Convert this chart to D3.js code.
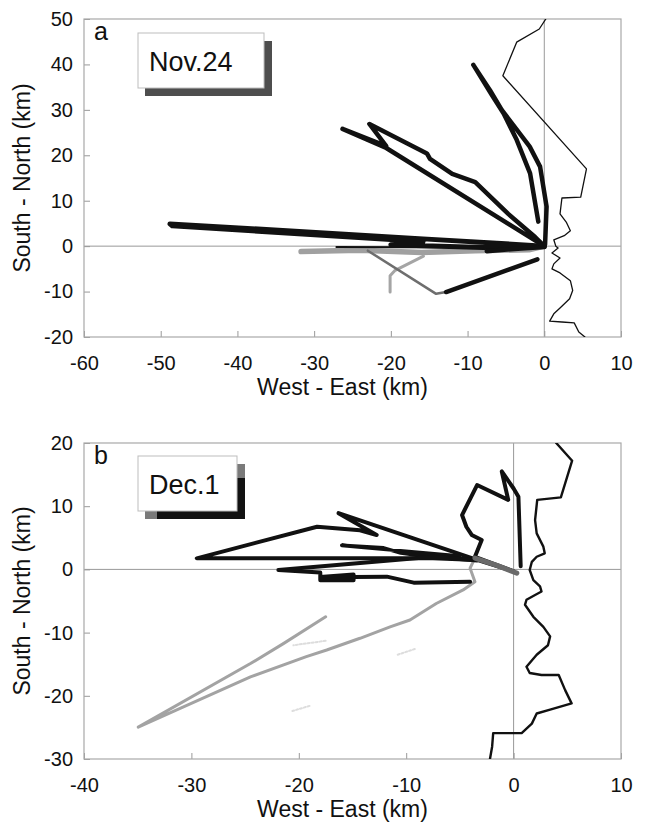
<!DOCTYPE html>
<meta charset="utf-8">
<script src="https://d3js.org/d3.v7.min.js"></script>
<style>
  body { margin: 0; background: #fff; }
  svg text { font-family: "Liberation Sans", Arial, sans-serif; fill: #111; }
</style>
<div id="chart"></div>
<script>
// ---- data (km) ----
var xTicksA = [-60, -50, -40, -30, -20, -10, 0, 10];
var yTicksA = [-20, -10, 0, 10, 20, 30, 40, 50];
var xTicksB = [-40, -30, -20, -10, 0, 10];
var yTicksB = [-30, -20, -10, 0, 10, 20];

// Nov.24
var profileA = [[0.2,50],[-0.65,47.8],[-3.6,44.9],[-5.4,37.5],[5.5,17.0],[4.75,10.8],[2.3,10.6],[2.05,7.1],[2.86,5.3],[3.4,3.4],[2.6,2.3],[1.24,1.4],[1.5,0],[1.8,-0.4],[1.0,-1.5],[2.05,-2.6],[1.24,-3.9],[1.0,-5.0],[2.05,-5.9],[3.4,-7.6],[3.7,-9.75],[3.3,-11.6],[2.05,-13.6],[1.24,-14.9],[0.7,-16.5],[2.3,-16.7],[3.9,-16.9],[4.5,-18.9],[5.3,-20]];
var northA = [[0.1,0.3],[0.3,8.7],[-0.55,17.5],[-1.9,21.9],[-5.55,30],[-7.1,34.4],[-9.25,39.9],[-6.85,33.3],[-5.3,29.2],[-3.6,23.4],[-1.85,16.0],[-0.78,5.4]];
var northWestA = [[0,0],[-20.6,21.6],[-26.3,25.8],[-20.6,22.0],[-22.8,26.9],[-19.5,24.0],[-15.3,20.4],[-14.9,19.2],[-12.0,15.9],[-9.0,14.1],[-4.7,7.1],[-1.2,2.0],[0,0]];
var westA = [[0,0],[-15.8,1.6],[-48.8,4.9],[-48.5,4.5],[-15.8,1.0],[-20,0.3],[-8,-0.3],[0,-0.1]];
var westTailA = [[-27.1,-0.2],[-8,-0.3]];
var nearA = [[-7.5,-1.1],[-3,-0.5],[0,-0.2]];
var southA = [[-12.8,-10.1],[-0.9,-2.9]];
var southGreyA = [[-23,-1.0],[-14.1,-10.5],[-12.8,-10.1]];
var bandGreyA = [[-31.7,-1.2],[-24,-0.9],[-16,-1.4],[-9,-1.0],[-2,-0.8],[0,0]];
var forkGreyA = [[-15.75,-2.2],[-19.5,-5.4],[-20.1,-6.5],[-20.1,-10.1]];

// Dec.1
var profileB = [[3.97,20],[5.45,17.2],[4.4,11.4],[2.2,11.0],[2.0,7.8],[2.15,5.7],[2.77,3.6],[2.9,2.55],[2.15,2.0],[1.7,1.2],[1.5,-0.1],[1.84,-1.7],[2.46,-2.7],[2.6,-3.5],[2.0,-4.05],[1.2,-4.8],[1.06,-5.6],[1.84,-7.5],[2.77,-9.1],[3.4,-10.6],[3.2,-12.0],[2.15,-13.5],[1.2,-15.4],[1.5,-16.4],[2.6,-16.7],[4.2,-16.7],[4.8,-19.1],[5.4,-21.2],[3.4,-22.2],[2.15,-22.8],[1.7,-24.4],[0.75,-25.9],[-1.9,-25.9],[-2.0,-28.05],[-2.2,-30]];
var leafB = [[0.66,0.5],[0.45,11.5],[0.0,12.8],[-1.1,15.5],[-0.5,11.0],[-3.4,13.35],[-4.8,8.6],[-4.4,6.75],[-3.9,5.45],[-2.97,4.65],[-3.6,2.0],[0,-0.3]];
var upperB = [[0,-0.3],[-3.4,1.5],[-16.3,8.9],[-12.75,5.45],[-14.3,6.2],[-18.3,6.75],[-29.5,1.75],[-7.5,1.75],[-3.4,1.5]];
var middleB = [[-3.6,1.6],[-8.0,2.0],[-10.5,2.6],[-12.1,3.4],[-16.0,3.8],[-12.1,3.2],[-9.5,2.8],[-5,2.1]];
var lowerB = [[-3.4,1.4],[-7.5,2.0],[-21.9,-0.1],[-18,-0.5],[-18,-1.7],[-14.9,-1.7],[-14.9,-0.8],[-18,-1.2],[-14.9,-1.2],[-11.8,-1.15],[-9.3,-2.1],[-4.05,-1.95]];
var greyB = [[0.3,-0.6],[-3.6,1.8],[-4.05,0.2],[-3.6,-1.95],[-4.7,-3.25],[-7.2,-5.4],[-9.65,-8.0],[-11.5,-9.1],[-14.3,-10.9],[-17.4,-12.75],[-19.3,-13.8],[-24.5,-17.0],[-34.95,-24.95],[-24.5,-14.9],[-21.4,-11.7],[-17.5,-7.5]];
var nearGreyB = [[-3.6,1.8],[-1.5,0.6],[0.3,-0.6]];
var faintB1 = [[-9.2,-12.6],[-10.8,-13.5]];
var faintB2 = [[-19.0,-21.6],[-20.6,-22.4]];
var faintB3 = [[-17.5,-11.3],[-20.5,-12.0]];

var W = 646, H = 825;
var svg = d3.select("#chart").append("svg")
    .attr("width", W)
    .attr("height", H);

function drawPanel(p) {
  var x = d3.scaleLinear().domain(p.xDomain).range([84, 621]);
  var y = d3.scaleLinear().domain(p.yDomain).range([p.bottom, p.top]);
  var g = svg.append("g");

  g.append("clipPath").attr("id", "clip" + p.id)
    .append("rect")
      .attr("x", 84).attr("y", p.top)
      .attr("width", 621 - 84).attr("height", p.bottom - p.top);

  // zero lines
  g.append("line")
      .attr("x1", 84).attr("x2", 621)
      .attr("y1", y(0)).attr("y2", y(0))
      .attr("stroke", "#999").attr("stroke-width", 1);
  g.append("line")
      .attr("x1", x(0)).attr("x2", x(0))
      .attr("y1", p.top).attr("y2", p.bottom)
      .attr("stroke", "#999").attr("stroke-width", 1);

  // axes, ticks pointing inward, plain hyphen for negatives
  var fmt = function(d) { return String(d); };
  var xa = g.append("g")
      .attr("transform", "translate(0," + p.bottom + ")")
      .call(d3.axisBottom(x).tickValues(p.xTicks).tickFormat(fmt).tickSizeInner(-6).tickSizeOuter(0).tickPadding(19));
  var ya = g.append("g")
      .attr("transform", "translate(84,0)")
      .call(d3.axisLeft(y).tickValues(p.yTicks).tickFormat(fmt).tickSizeInner(-6).tickSizeOuter(0).tickPadding(11));
  [xa, ya].forEach(function(a) {
    a.select(".domain").remove();
    a.selectAll(".tick line").attr("stroke", "#999");
    a.selectAll("text").style("font-size", "20px").attr("fill", "#111");
  });

  // frame
  g.append("rect")
      .attr("x", 84).attr("y", p.top)
      .attr("width", 621 - 84).attr("height", p.bottom - p.top)
      .attr("fill", "none").attr("stroke", "#a8a8a8").attr("stroke-width", 1.2);

  var line = d3.line().x(function(d) { return x(d[0]); }).y(function(d) { return y(d[1]); });
  var plot = g.append("g").attr("clip-path", "url(#clip" + p.id + ")");
  p.series.forEach(function(s) {
    plot.append("path")
        .datum(s.data)
        .attr("d", line)
        .attr("fill", "none")
        .attr("stroke", s.color)
        .attr("stroke-width", s.width)
        .attr("stroke-linejoin", "round")
        .attr("stroke-linecap", "round")
        .attr("stroke-dasharray", s.dash || null);
  });

  // axis titles
  g.append("text")
      .attr("x", (84 + 621) / 2 - 10).attr("y", p.bottom + 58)
      .attr("text-anchor", "middle")
      .style("font-size", "23px")
      .text("West - East (km)");
  g.append("text")
      .attr("transform", "translate(30," + (p.top + p.bottom) / 2 + ") rotate(-90)")
      .attr("text-anchor", "middle")
      .style("font-size", "23px")
      .text("South - North (km)");

  // panel letter
  g.append("text")
      .attr("x", 94).attr("y", p.top + 21)
      .style("font-size", "25px")
      .text(p.letter);

  // date box with drop shadow
  var bx = 138, by = p.top + p.boxDy, bw = p.boxW, bh = 55;
  g.append("rect").attr("x", bx + bw).attr("y", by + 8).attr("width", 8).attr("height", bh)
      .attr("fill", p.shadow);
  g.append("rect").attr("x", bx + 7).attr("y", by + bh).attr("width", bw + 1).attr("height", 8)
      .attr("fill", p.shadow);
  if (p.shadowEnds) {
    g.append("rect").attr("x", bx + 7).attr("y", by + bh).attr("width", 12).attr("height", 8).attr("fill", "#7a7a7a");
    g.append("rect").attr("x", bx + bw).attr("y", by + 8).attr("width", 8).attr("height", 14).attr("fill", "#7a7a7a");
  }
  g.append("rect").attr("x", bx).attr("y", by).attr("width", bw).attr("height", bh)
      .attr("fill", "#fff").attr("stroke", "#bdbdbd").attr("stroke-width", 1);
  g.append("text")
      .attr("x", bx + 11).attr("y", by + 38)
      .style("font-size", "27px")
      .text(p.label);
}

drawPanel({
  id: "a", letter: "a", label: "Nov.24",
  xDomain: [-60, 10], yDomain: [-20, 50], top: 19, bottom: 337,
  xTicks: xTicksA, yTicks: yTicksA,
  boxDy: 14, boxW: 126, shadow: "#4e4e4e", shadowEnds: false,
  series: [
    {data: bandGreyA, color: "#a0a0a0", width: 5.5},
    {data: forkGreyA, color: "#a5a5a5", width: 3},
    {data: southGreyA, color: "#6e6e6e", width: 2.5},
    {data: southA, color: "#111", width: 4.5},
    {data: westA, color: "#111", width: 5},
    {data: westTailA, color: "#111", width: 2},
    {data: nearA, color: "#111", width: 4.5},
    {data: northWestA, color: "#111", width: 4.5},
    {data: northA, color: "#111", width: 4.5},
    {data: profileA, color: "#111", width: 1.3}
  ]
});

drawPanel({
  id: "b", letter: "b", label: "Dec.1",
  xDomain: [-40, 10], yDomain: [-30, 20], top: 443, bottom: 759,
  xTicks: xTicksB, yTicks: yTicksB,
  boxDy: 13, boxW: 99, shadow: "#121212", shadowEnds: true,
  series: [
    {data: faintB1, color: "#ddd", width: 2, dash: "2,2"},
    {data: faintB2, color: "#ddd", width: 2, dash: "2,2"},
    {data: faintB3, color: "#ddd", width: 2, dash: "2,2"},
    {data: greyB, color: "#a3a3a3", width: 3},
    {data: upperB, color: "#111", width: 4},
    {data: middleB, color: "#111", width: 3.6},
    {data: lowerB, color: "#111", width: 4},
    {data: leafB, color: "#111", width: 4},
    {data: nearGreyB, color: "#6a6a6a", width: 5},
    {data: profileB, color: "#111", width: 2.4}
  ]
});
</script>
